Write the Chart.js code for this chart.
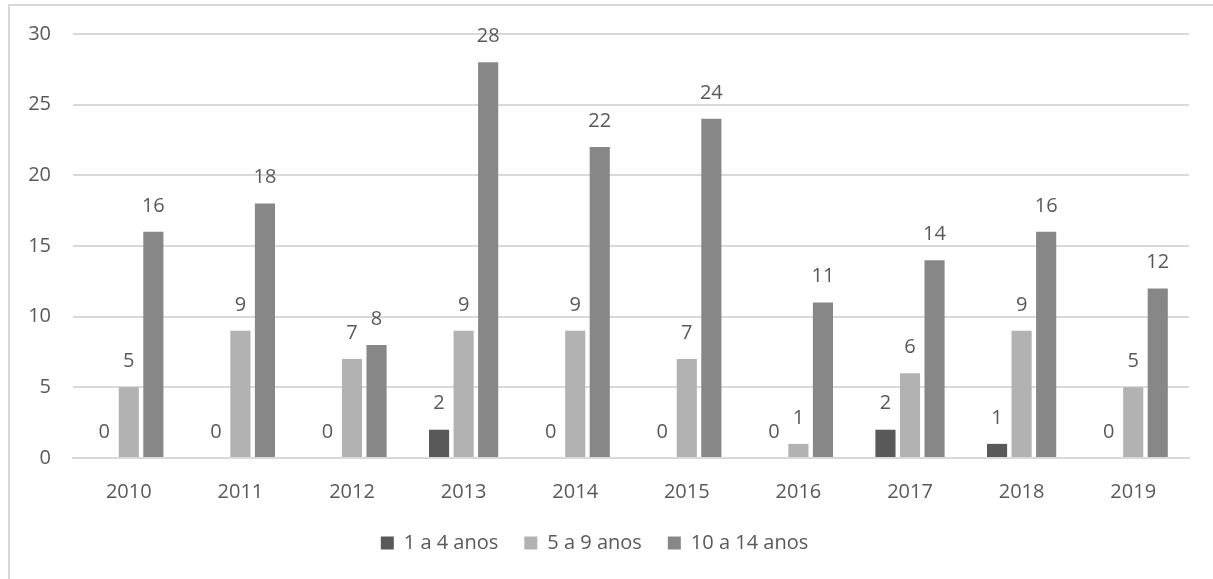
<!DOCTYPE html>
<html>
<head>
<meta charset="utf-8">
<script src="https://cdn.jsdelivr.net/npm/chart.js@4"></script>
<style>
  body { margin: 0; background: #fff; }
  #frame { position: absolute; left: 8px; top: 4px; width: 1300px; height: 700px;
           border-left: 2px solid #d9d9d9; border-top: 2px solid #d9d9d9; }
  #wrap { position: absolute; left: 0; top: 0; width: 1213px; height: 579px; }
</style>
</head>
<body>
<div id="frame"></div>
<div id="wrap"><canvas id="myChart"></canvas></div>
<script>
let years = ['2010', '2011', '2012', '2013', '2014', '2015', '2016', '2017', '2018', '2019'];
let age1to4 = [0, 0, 0, 2, 0, 0, 0, 2, 1, 0];
let age5to9 = [5, 9, 7, 9, 9, 7, 1, 6, 9, 5];
let age10to14 = [16, 18, 8, 28, 22, 24, 11, 14, 16, 12];
let seriesNames = ['1 a 4 anos', '5 a 9 anos', '10 a 14 anos'];
let colors = ['#595959', '#b2b2b2', '#878787'];

let textColor = '#595959';
let fontFamily = '"Open Sans", Lato, sans-serif';

// draws the value above every bar
let valueLabels = {
  id: 'valueLabels',
  afterDatasetsDraw(chart) {
    let ctx = chart.ctx;
    ctx.save();
    ctx.fillStyle = textColor;
    ctx.font = '20px ' + fontFamily;
    ctx.textAlign = 'center';
    ctx.textBaseline = 'middle';
    chart.data.datasets.forEach(function(ds, i) {
      let meta = chart.getDatasetMeta(i);
      meta.data.forEach(function(bar, j) {
        ctx.fillText(ds.data[j], bar.x, bar.y - 26);
      });
    });
    ctx.restore();
  }
};

var ctx = document.getElementById('myChart').getContext('2d');
var chart = new Chart(ctx, {
  type: 'bar',
  data: {
    labels: years,
    datasets: [
      { label: seriesNames[0], data: age1to4, backgroundColor: colors[0] },
      { label: seriesNames[1], data: age5to9, backgroundColor: colors[1] },
      { label: seriesNames[2], data: age10to14, backgroundColor: colors[2] }
    ]
  },
  options: {
    responsive: true,
    maintainAspectRatio: false,
    animation: false,
    datasets: {
      bar: { categoryPercentage: 0.66, barPercentage: 0.82 }
    },
    layout: { padding: { left: 0, right: 24, top: 22, bottom: 16 } },
    plugins: {
      tooltip: { enabled: false },
      legend: {
        position: 'bottom',
        labels: {
          color: textColor,
          font: { family: fontFamily, size: 20 },
          boxWidth: 13,
          boxHeight: 13,
          padding: 26
        }
      }
    },
    scales: {
      x: {
        afterFit: function(scale) { scale.height = 49; },
        grid: { display: false, drawTicks: false },
        border: { color: '#d9d9d9', width: 2 },
        ticks: { color: textColor, font: { family: fontFamily, size: 20 }, padding: 22 }
      },
      y: {
        min: 0,
        max: 30,
        afterFit: function(scale) { scale.width = 73; },
        grid: { color: '#d9d9d9', lineWidth: 2, drawTicks: false },
        border: { display: false },
        ticks: { stepSize: 5, color: textColor, font: { family: fontFamily, size: 20 }, padding: 22 }
      }
    }
  },
  plugins: [valueLabels]
});
</script>
</body>
</html>
